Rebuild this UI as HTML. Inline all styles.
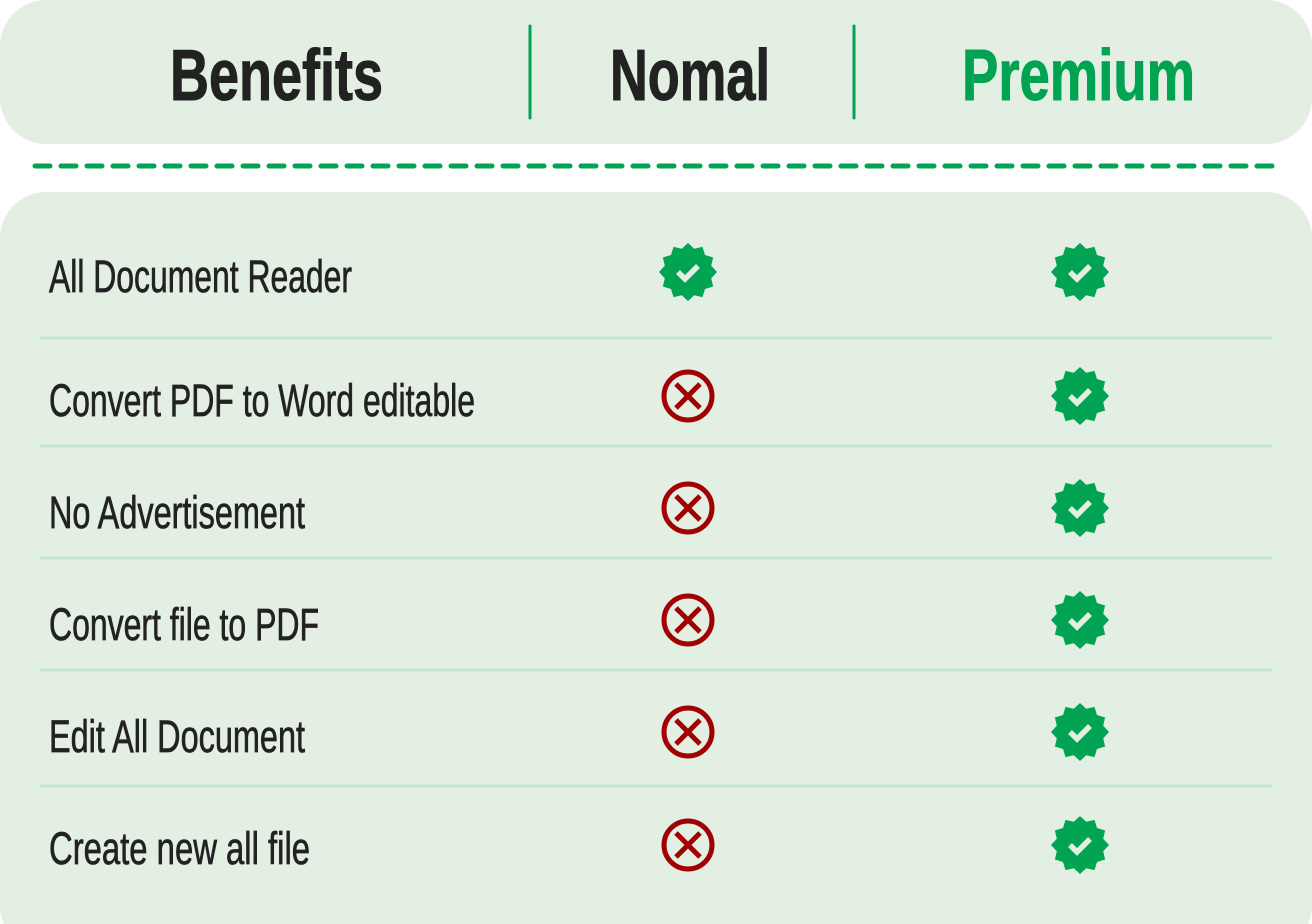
<!DOCTYPE html>
<html><head><meta charset="utf-8"><style>
html,body{margin:0;padding:0;background:#fff;}
svg{display:block;}
text{font-family:"Liberation Sans Narrow","Liberation Sans",sans-serif;}
</style></head><body>
<svg width="1312" height="924" viewBox="0 0 1312 924" xmlns="http://www.w3.org/2000/svg">
<defs>
<g id="ok">
<polygon fill="#00a352" points="29,0 23.2,6.2 25.1,14.5 17,17 14.5,25.1 6.2,23.2 0,29 -6.2,23.2 -14.5,25.1 -17,17 -25.1,14.5 -23.2,6.2 -29,0 -23.2,-6.2 -25.1,-14.5 -17,-17 -14.5,-25.1 -6.2,-23.2 0,-29 6.2,-23.2 14.5,-25.1 17,-17 25.1,-14.5 23.2,-6.2"/>
<polyline points="-10,0 -3,7 10,-6" fill="none" stroke="#e3efe3" stroke-width="5.5"/>
</g>
<g id="no">
<circle r="24" fill="none" stroke="#a00000" stroke-width="5"/>
<path d="M-12,-12 L12,12 M12,-12 L-12,12" stroke="#a00000" stroke-width="5"/>
</g>
</defs>
<rect x="0" y="0" width="1312" height="144" rx="46" fill="#e3efe3"/>
<rect x="0" y="192" width="1312" height="760" rx="46" fill="#e3efe3"/>
<line x1="35" y1="166" x2="1280" y2="166" stroke="#00a352" stroke-width="5" stroke-dasharray="15 11" stroke-linecap="round"/>
<line x1="530" y1="26" x2="530" y2="118" stroke="#00a352" stroke-width="3" stroke-linecap="round"/>
<line x1="854" y1="26" x2="854" y2="118" stroke="#00a352" stroke-width="3" stroke-linecap="round"/>
<g font-weight="bold" font-size="72">
<text x="170" y="100" textLength="213" lengthAdjust="spacingAndGlyphs" fill="#222" stroke="#222" stroke-width="1">Benefits</text>
<text x="610" y="100" textLength="160" lengthAdjust="spacingAndGlyphs" fill="#222" stroke="#222" stroke-width="1">Nomal</text>
<text x="962" y="100" textLength="233" lengthAdjust="spacingAndGlyphs" fill="#00a352" stroke="#00a352" stroke-width="1">Premium</text>
</g>
<g stroke="#c2e6d3" stroke-width="3">
<line x1="40" y1="338" x2="1272" y2="338"/>
<line x1="40" y1="446" x2="1272" y2="446"/>
<line x1="40" y1="558" x2="1272" y2="558"/>
<line x1="40" y1="670" x2="1272" y2="670"/>
<line x1="40" y1="786" x2="1272" y2="786"/>
</g>
<g font-size="45" fill="#222" stroke="#222" stroke-width="0.7">
<text x="49" y="292" textLength="303" lengthAdjust="spacingAndGlyphs">All Document Reader</text>
<text x="49" y="416" textLength="426" lengthAdjust="spacingAndGlyphs">Convert PDF to Word editable</text>
<text x="49" y="528" textLength="256" lengthAdjust="spacingAndGlyphs">No Advertisement</text>
<text x="49" y="640" textLength="270" lengthAdjust="spacingAndGlyphs">Convert file to PDF</text>
<text x="49" y="752" textLength="256" lengthAdjust="spacingAndGlyphs">Edit All Document</text>
<text x="49" y="864" textLength="261" lengthAdjust="spacingAndGlyphs">Create new all file</text>
</g>
<use href="#ok" x="688" y="272"/>
<use href="#no" x="688" y="396"/>
<use href="#no" x="688" y="508"/>
<use href="#no" x="688" y="620"/>
<use href="#no" x="688" y="732"/>
<use href="#no" x="688" y="845"/>
<use href="#ok" x="1080" y="272"/>
<use href="#ok" x="1080" y="396"/>
<use href="#ok" x="1080" y="508"/>
<use href="#ok" x="1080" y="620"/>
<use href="#ok" x="1080" y="732"/>
<use href="#ok" x="1080" y="845"/>
</svg>
</body></html>
